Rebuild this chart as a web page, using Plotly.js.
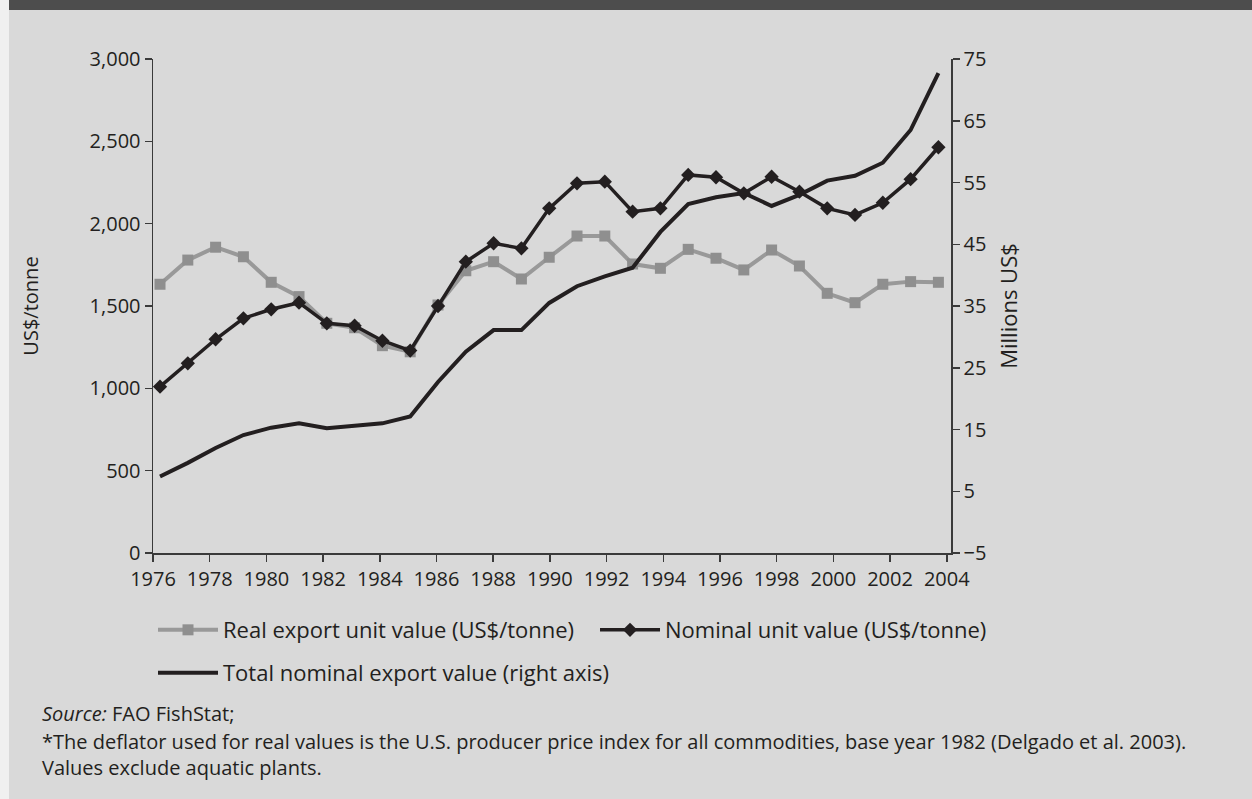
<!DOCTYPE html>
<html>
<head>
<meta charset="utf-8">
<script src="https://cdn.plot.ly/plotly-3.0.1.min.js"></script>
<style>
  html, body { margin:0; padding:0; width:1252px; height:799px; overflow:hidden; background:#d9d9d9; }
  #strip { position:absolute; left:0; top:0; width:9px; height:799px; background:#f0f0f0; }
  #band { position:absolute; left:9px; top:0; width:1243px; height:10px; background:#4d4d4d; }
  #chart { position:absolute; left:0; top:0; width:1252px; height:799px; }
</style>
</head>
<body>
<div id="strip"></div>
<div id="band"></div>
<div id="chart"></div>
<script>
// ---- data ----
var years = [1976,1977,1978,1979,1980,1981,1982,1983,1984,1985,1986,1987,1988,1989,1990,
             1991,1992,1993,1994,1995,1996,1997,1998,1999,2000,2001,2002,2003,2004];
var realUnitValue = [1632,1779,1857,1799,1644,1557,1395,1368,1259,1222,1506,1714,1769,1664,1796,
                     1925,1925,1755,1729,1844,1790,1719,1840,1743,1577,1520,1632,1648,1644];
var nominalUnitValue = [1010,1152,1298,1425,1480,1520,1395,1380,1289,1229,1500,1769,1881,1850,2093,
                        2245,2255,2073,2093,2296,2282,2184,2285,2194,2093,2053,2127,2270,2464];
var totalExportValue = [7.4,9.6,12.0,14.1,15.3,16.0,15.2,15.6,16.0,17.1,22.7,27.6,31.1,31.1,35.5,
                        38.2,39.8,41.2,47.0,51.5,52.6,53.3,51.2,53.0,55.3,56.1,58.2,63.5,72.7];
var seriesNames = ["Real export unit value (US$/tonne)", "Nominal unit value (US$/tonne)", "Total nominal export value (right axis)"];
var yLeftTitle = "US$/tonne";
var yRightTitle = "Millions US$";
var notes = ["<i>Source:</i> FAO FishStat;",
             "*The deflator used for real values is the U.S. producer price index for all commodities, base year 1982 (Delgado et al. 2003).",
             "Values exclude aquatic plants."];

var FONT = "'Open Sans', 'Noto Sans', sans-serif";
var INK = "#231f20";
var AXC = "#3a3a3a";

var traces = [
  { x: years, y: realUnitValue, name: seriesNames[0], type: "scatter", mode: "lines+markers",
    xaxis: "x", yaxis: "y", legend: "legend",
    line: { color: "#999999", width: 4 },
    marker: { symbol: "square", size: 11, color: "#8f8f8f" } },
  { x: years, y: nominalUnitValue, name: seriesNames[1], type: "scatter", mode: "lines+markers",
    xaxis: "x", yaxis: "y", legend: "legend3",
    line: { color: INK, width: 3.5 },
    marker: { symbol: "diamond", size: 11, color: INK } },
  { x: years, y: totalExportValue, name: seriesNames[2], type: "scatter", mode: "lines",
    xaxis: "x", yaxis: "y2", legend: "legend2",
    line: { color: INK, width: 4 } },
  { x: [], y: [], xaxis: "x2", yaxis: "y", showlegend: false, hoverinfo: "skip", type: "scatter", mode: "lines" }
];

var noteFont = { family: FONT, size: 20, color: INK };
var annotations = [
  { text: notes[0], xref: "paper", yref: "paper", x: -0.1416, y: -0.3259, xanchor: "left", yanchor: "middle", showarrow: false, font: noteFont },
  { text: notes[1], xref: "paper", yref: "paper", x: -0.1416, y: -0.3806, xanchor: "left", yanchor: "middle", showarrow: false, font: noteFont },
  { text: notes[2], xref: "paper", yref: "paper", x: -0.1416, y: -0.4332, xanchor: "left", yanchor: "middle", showarrow: false, font: noteFont }
];

var legendFont = { family: FONT, size: 22, color: INK };
var layout = {
  width: 1252, height: 799,
  margin: { l: 153, r: 301, t: 59, b: 246 },
  paper_bgcolor: "rgba(0,0,0,0)", plot_bgcolor: "rgba(0,0,0,0)",
  font: { family: FONT, size: 20, color: INK },
  showlegend: true,
  xaxis: { range: [1975.748, 2004.453], visible: false, fixedrange: true },
  xaxis2: { overlaying: "x", anchor: "y", range: [1976, 2004.15], tick0: 1976, dtick: 2,
            showline: true, linecolor: AXC, linewidth: 1.5, ticks: "outside", ticklen: 7, tickwidth: 1.5, tickcolor: AXC,
            showgrid: false, zeroline: false, tickfont: { family: FONT, size: 20, color: INK } },
  yaxis: { range: [0, 3000], dtick: 500, tickformat: ",d", showline: true, linecolor: AXC, linewidth: 1.5,
           ticks: "outside", ticklen: 7, tickwidth: 1.5, tickcolor: AXC, showgrid: false, zeroline: false,
           tickfont: { family: FONT, size: 20, color: INK },
           title: { text: yLeftTitle, standoff: 45, font: { family: FONT, size: 20, color: INK } } },
  yaxis2: { overlaying: "y", side: "right", anchor: "x", range: [-5, 75], tick0: -5, dtick: 10,
            showline: true, linecolor: AXC, linewidth: 1.5, ticks: "outside", ticklen: 7, tickwidth: 1.5, tickcolor: AXC,
            showgrid: false, zeroline: false, tickfont: { family: FONT, size: 20, color: INK },
            title: { text: yRightTitle, standoff: 16, font: { family: FONT, size: 22, color: INK } } },
  legend: { orientation: "h", xref: "paper", yref: "paper", x: 0, y: -0.1134, xanchor: "left", yanchor: "top",
            bgcolor: "rgba(0,0,0,0)", font: legendFont, itemwidth: 60 },
  legend3: { orientation: "h", xref: "paper", yref: "paper", x: 0.5539, y: -0.1134, xanchor: "left", yanchor: "top",
            bgcolor: "rgba(0,0,0,0)", font: legendFont, itemwidth: 60 },
  legend2: { orientation: "h", xref: "paper", yref: "paper", x: 0, y: -0.2004, xanchor: "left", yanchor: "top",
            bgcolor: "rgba(0,0,0,0)", font: legendFont, itemwidth: 60 },
  annotations: annotations
};

Plotly.newPlot("chart", traces, layout, { staticPlot: true, displayModeBar: false });
</script>
</body>
</html>
